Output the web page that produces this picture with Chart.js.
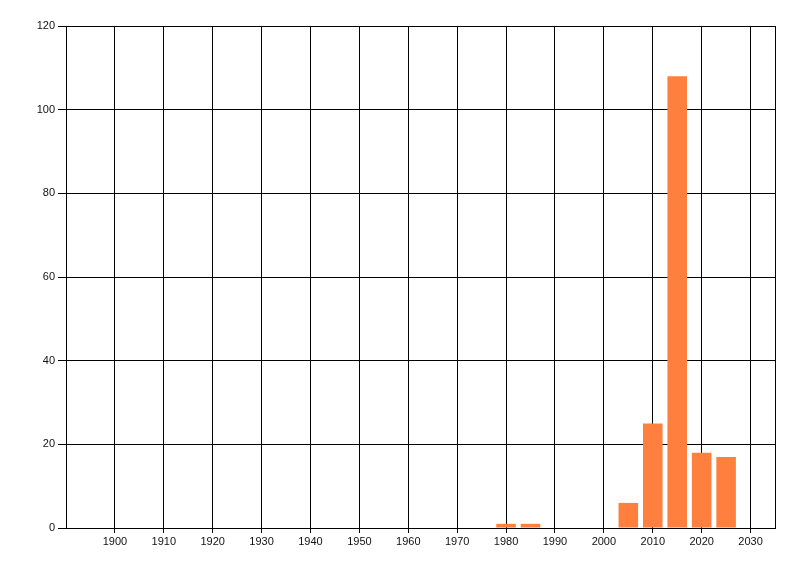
<!DOCTYPE html>
<html>
<head>
<meta charset="utf-8">
<script src="https://cdn.jsdelivr.net/npm/chart.js@4/dist/chart.umd.min.js"></script>
<style>
  html, body { margin: 0; padding: 0; background: #fff; }
  #wrap { width: 800px; height: 576px; }
</style>
</head>
<body>
<div id="wrap"><canvas id="c" width="800" height="576"></canvas></div>
<script>
const years = [1980, 1985, 2005, 2010, 2015, 2020, 2025];
const counts = [1, 1, 6, 25, 108, 18, 17];
const xTickYears = [1900, 1910, 1920, 1930, 1940, 1950, 1960, 1970, 1980, 1990, 2000, 2010, 2020, 2030];
const yTicks = [0, 20, 40, 60, 80, 100, 120];

const font = { family: "'Liberation Sans', Arial, sans-serif", size: 11 };

new Chart(document.getElementById('c'), {
  type: 'bar',
  data: {
    datasets: [{
      data: years.map((y, i) => ({ x: y, y: counts[i] })),
      backgroundColor: '#FF7F3F',
      borderWidth: 0,
      barPercentage: 1,
      categoryPercentage: 0.8
    }]
  },
  options: {
    responsive: false,
    animation: false,
    layout: { padding: { top: 26, right: 0, left: 0, bottom: 0 } },
    plugins: { legend: { display: false }, tooltip: { enabled: false } },
    scales: {
      x: {
        type: 'linear',
        offset: false,
        min: 1890,
        max: 2035,
        afterBuildTicks: s => { s.ticks = xTickYears.map(v => ({ value: v })); },
        afterFit: s => { s.height = 48; },
        ticks: { color: '#111', font, padding: 2, maxRotation: 0, autoSkip: false, callback: v => String(v) },
        grid: { color: '#000', lineWidth: 1, tickLength: 5, offset: false },
        border: { display: true, color: '#000', width: 1 }
      },
      y: {
        min: 0,
        max: 120,
        afterBuildTicks: s => { s.ticks = yTicks.map(v => ({ value: v })); },
        afterFit: s => { s.width = 66; },
        ticks: { color: '#111', font, padding: 3 },
        grid: { color: '#000', lineWidth: 1, tickLength: 8 },
        border: { display: true, color: '#000', width: 1 }
      },
      y2: {
        position: 'right',
        min: 0,
        max: 120,
        afterFit: s => { s.width = 25; },
        ticks: { display: false },
        grid: { display: false },
        border: { display: true, color: '#000', width: 1 }
      }
    }
  }
});
</script>
</body>
</html>
